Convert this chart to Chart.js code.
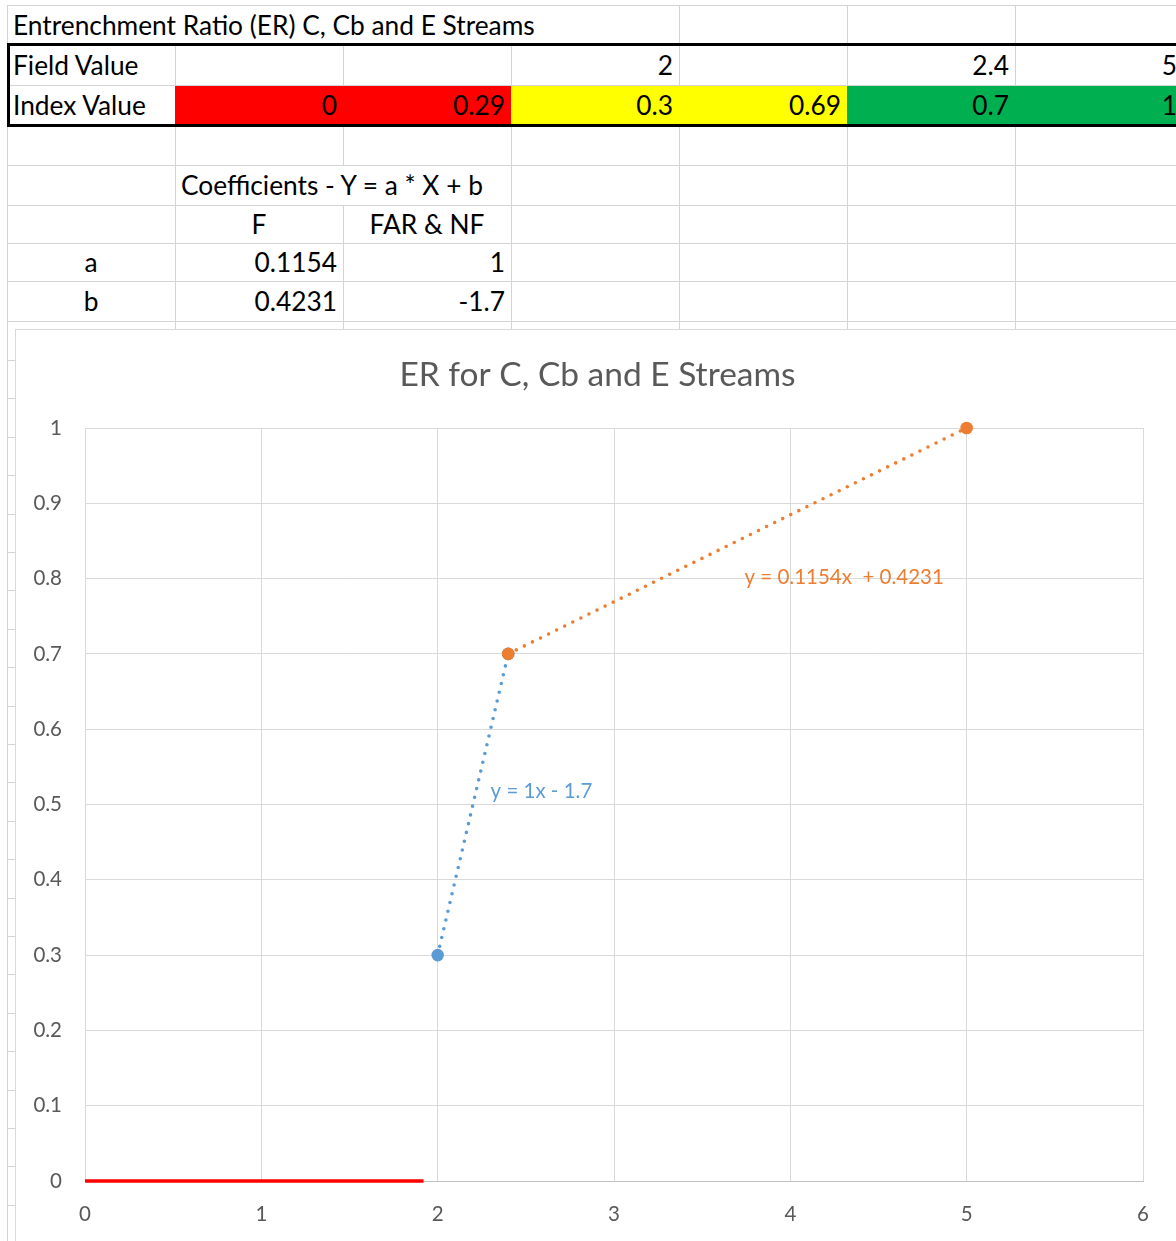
<!DOCTYPE html>
<html>
<head>
<meta charset="utf-8">
<script src="https://cdn.jsdelivr.net/npm/chart.js@4.4.1/dist/chart.umd.min.js"></script>
<style>
  html, body { margin: 0; padding: 0; background: #fff; overflow: hidden; width: 1176px; height: 1241px; }
  #sheet { position: absolute; left: 0; top: 0; width: 1176px; height: 1241px; overflow: hidden;
           font-family: Lato, "Noto Sans", sans-serif; font-size: 26.3px; color: #000; }
  .ln { position: absolute; background: #D4D4D4; }
  .fill { position: absolute; }
  .txt { position: absolute; display: flex; align-items: center; white-space: nowrap; box-sizing: border-box; padding: 0 6px; }
  #frame { position: absolute; left: 15px; top: 329px; width: 1300px; height: 1000px; background: #fff;
           border: 1px solid #D9D9D9; box-sizing: border-box; }
  #chart { position: absolute; left: 16px; top: 330px; }
</style>
</head>
<body>
<div id="sheet"></div>
<div id="frame"></div>
<canvas id="chart" width="1160" height="911"></canvas>
<script>
// ---- worksheet contents ----
const sheetTitle = 'Entrenchment Ratio (ER) C, Cb and E Streams';
const rowLabels = ['Field Value', 'Index Value'];
const fieldValues = [null, null, 2, null, 2.4, 5];          // columns B..G
const indexValues = [0, 0.29, 0.3, 0.69, 0.7, 1];           // columns B..G
const indexBands = ['#FF0000', '#FF0000', '#FFFF00', '#FFFF00', '#00B050', '#00B050'];
const coefHeading = 'Coefficients - Y = a * X + b';
const coefColumns = ['F', 'FAR & NF'];
const coefA = [0.1154, 1];
const coefB = [0.4231, -1.7];

// ---- chart series ----
const chartTitle = 'ER for C, Cb and E Streams';
const lowX = [0, 1.92];
const lowY = [0, 0];
const farX = [2, 2.4];      // FAR & NF
const farY = [0.3, 0.7];
const fX = [2.4, 5];        // F
const fY = [0.7, 1];
const trendLabels = ['y = 0.1154x  + 0.4231', 'y = 1x - 1.7'];   // F, FAR & NF
const trendLabelAt = [[3.74, 0.802], [2.30, 0.518]];

// ---- worksheet grid ----
const colEdges = [7, 175, 343, 511, 679, 847, 1015, 1183];
const rowEdges = [5, 45, 85, 125, 165, 205, 243, 281, 321];
for (let y = 360; y < 1260; y += 38.4) rowEdges.push(Math.round(y));

const sheet = document.getElementById('sheet');
function el(cls, x, y, w, h, extra) {
  const d = document.createElement('div');
  d.className = cls;
  Object.assign(d.style, { left: x + 'px', top: y + 'px', width: w + 'px', height: h + 'px' }, extra || {});
  sheet.appendChild(d);
  return d;
}
// cells whose right border is hidden by overflowing text: [row, colEdgeIndex]
const hidden = new Set(['0-1', '0-2', '0-3', '4-2']);
rowEdges.forEach(y => el('ln', colEdges[0], y, 1200, 1));
for (let r = 0; r < rowEdges.length - 1; r++) {
  colEdges.forEach((x, c) => {
    if (hidden.has(r + '-' + c)) return;
    el('ln', x, rowEdges[r], 1, rowEdges[r + 1] - rowEdges[r] + 1);
  });
}
function cellText(str, r, c0, c1, align) {
  const d = el('txt', colEdges[c0], rowEdges[r], colEdges[c1] - colEdges[c0], rowEdges[r + 1] - rowEdges[r],
    { justifyContent: align === 'right' ? 'flex-end' : align === 'center' ? 'center' : 'flex-start' });
  d.textContent = str;
  return d;
}
// index colour bands
indexValues.forEach((v, i) => {
  el('fill', colEdges[i + 1], rowEdges[2] + 1, colEdges[i + 2] - colEdges[i + 1] + 1, rowEdges[3] - rowEdges[2] - 1,
     { background: indexBands[i] });
});
cellText(sheetTitle, 0, 0, 4, 'left');
cellText(rowLabels[0], 1, 0, 1, 'left');
cellText(rowLabels[1], 2, 0, 1, 'left');
fieldValues.forEach((v, i) => { if (v !== null) cellText(String(v), 1, i + 1, i + 2, 'right'); });
indexValues.forEach((v, i) => cellText(String(v), 2, i + 1, i + 2, 'right'));
cellText(coefHeading, 4, 1, 3, 'left');
coefColumns.forEach((name, i) => cellText(name, 5, i + 1, i + 2, 'center'));
cellText('a', 6, 0, 1, 'center');
cellText('b', 7, 0, 1, 'center');
coefA.forEach((v, i) => cellText(String(v), 6, i + 1, i + 2, 'right'));
coefB.forEach((v, i) => cellText(String(v), 7, i + 1, i + 2, 'right'));
// thick outline around the Field / Index block
el('fill', colEdges[0], rowEdges[1] - 2, 1300, rowEdges[3] - rowEdges[1] + 4,
   { border: '3px solid #000', boxSizing: 'border-box' });

// ---- chart ----
const BLUE = '#5B9BD5', ORANGE = '#ED7D31', RED = '#FF0000', GREY = '#595959';
const FONT = 'Lato';
const pts = (xs, ys) => xs.map((x, i) => ({ x, y: ys[i] }));
const trend = (xs, a, b) => [Math.min(...xs), Math.max(...xs)].map(x => ({ x, y: a * x + b }));

// chart title centred on the whole chart frame, and the trendline equations
const annotationPlugin = {
  id: 'annotations',
  afterDraw(chart) {
    const { ctx, scales } = chart;
    ctx.save();
    ctx.textBaseline = 'middle';
    ctx.textAlign = 'center';
    ctx.fillStyle = GREY;
    ctx.font = '33.5px ' + FONT;
    ctx.fillText(chartTitle, chart.width / 2 + 1.5, 45);
    ctx.font = '20.5px ' + FONT;
    ctx.textAlign = 'left';
    [ORANGE, BLUE].forEach((col, i) => {
      ctx.fillStyle = col;
      ctx.fillText(trendLabels[i], scales.x.getPixelForValue(trendLabelAt[i][0]),
                   scales.y.getPixelForValue(trendLabelAt[i][1]));
    });
    ctx.restore();
  }
};

function draw() {
  const dotted = { showLine: true, borderWidth: 3.6, borderDash: [0, 9], borderCapStyle: 'round',
                   pointRadius: 0, order: 4, clip: false };
  new Chart(document.getElementById('chart'), {
    type: 'scatter',
    data: {
      datasets: [
        Object.assign({ label: 'FAR & NF trend', data: trend(farX, coefA[1], coefB[1]), borderColor: BLUE }, dotted),
        Object.assign({ label: 'F trend', data: trend(fX, coefA[0], coefB[0]), borderColor: ORANGE }, dotted),
        { label: 'Below 2', data: pts(lowX, lowY), showLine: true, borderColor: RED, borderWidth: 3.5,
          pointRadius: 0, order: 2, clip: false },
        { label: 'FAR & NF', data: pts(farX, farY), showLine: false, pointRadius: 6.3, pointBorderWidth: 0,
          backgroundColor: BLUE, borderColor: BLUE, order: 1, clip: false },
        { label: 'F', data: pts(fX, fY), showLine: false, pointRadius: 6.3, pointBorderWidth: 0,
          backgroundColor: ORANGE, borderColor: ORANGE, order: 0, clip: false }
      ]
    },
    options: {
      responsive: false,
      animation: false,
      devicePixelRatio: 1,
      layout: { padding: { left: 0, right: 33, top: 98, bottom: 0 } },
      plugins: {
        legend: { display: false },
        tooltip: { enabled: false },
        title: { display: false }
      },
      scales: {
        x: {
          type: 'linear', min: 0, max: 6,
          ticks: { stepSize: 1, color: GREY, font: { family: FONT, size: 20.5 }, padding: 21 },
          grid: { color: '#D9D9D9', drawTicks: false },
          border: { color: '#BFBFBF' },
          afterFit(s) { s.height = 60; }
        },
        y: {
          type: 'linear', min: 0, max: 1,
          ticks: { stepSize: 0.1, color: GREY, font: { family: FONT, size: 20.5 }, padding: 23,
                   callback: v => String(Math.round(v * 10) / 10) },
          grid: { color: '#D9D9D9', drawTicks: false },
          border: { color: '#D9D9D9' },
          afterFit(s) { s.width = 69; }
        }
      }
    },
    plugins: [annotationPlugin]
  });
}
(document.fonts ? document.fonts.load('20px ' + FONT) : Promise.resolve()).then(draw, draw);
</script>
</body>
</html>
